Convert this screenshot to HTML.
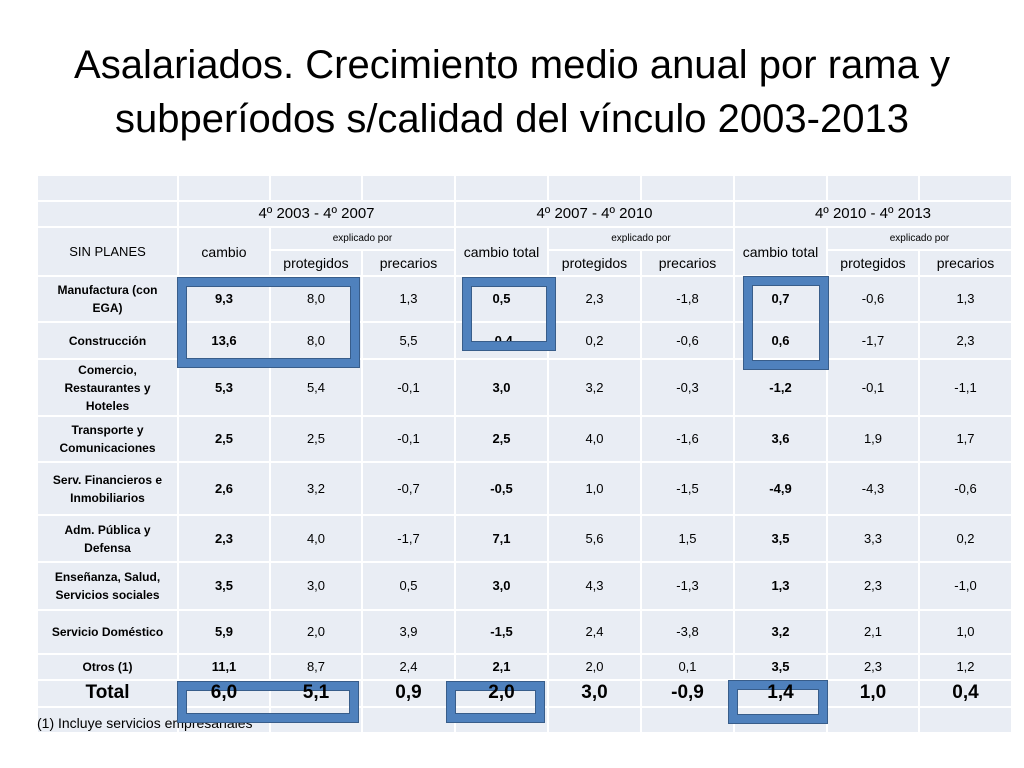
<!DOCTYPE html>
<html><head><meta charset="utf-8"><style>
body{margin:0;width:1024px;height:768px;background:#fff;font-family:"Liberation Sans",sans-serif;position:relative;overflow:hidden}
h1{position:absolute;left:0;top:38px;width:1024px;margin:0;text-align:center;font-weight:normal;font-size:40px;line-height:54px;color:#000}
.c{position:absolute;background:#e9edf4;display:flex;align-items:center;justify-content:center;text-align:center;color:#000;box-sizing:border-box;font-size:13px;line-height:16px}
.b{font-weight:bold;font-size:13px}
.lab{font-weight:bold;font-size:12px;line-height:18px;padding:0 12px}
.tot{font-weight:bold;font-size:19px;z-index:3;background:transparent;padding-bottom:2px}
.box{position:absolute;border:8px solid #4f81bd;box-shadow:0 0 0 1px #385d8a, inset 0 0 0 1px #385d8a;box-sizing:border-box;z-index:2}
.fn{position:absolute;left:37px;top:715px;font-size:14px;color:#000;z-index:1}
</style></head><body>
<h1>Asalariados. Crecimiento medio anual por rama y<br>subperíodos s/calidad del vínculo 2003-2013</h1>
<div id="t"></div>
<div class="fn">(1) Incluye servicios empresariales</div>
<script>
const colX=[37,178,270,362,455,548,641,734,827,919,1012];
const rowY=[175,201,227,250,276,322,359,416,462,515,562,610,654,680,707,733];
const rowLabels=["Manufactura (con EGA)","Construcción","Comercio, Restaurantes y Hoteles","Transporte y Comunicaciones","Serv. Financieros e Inmobiliarios","Adm. Pública y Defensa","Enseñanza, Salud, Servicios sociales","Servicio Doméstico","Otros (1)"];
const period1=[["9,3","8,0","1,3"],["13,6","8,0","5,5"],["5,3","5,4","-0,1"],["2,5","2,5","-0,1"],["2,6","3,2","-0,7"],["2,3","4,0","-1,7"],["3,5","3,0","0,5"],["5,9","2,0","3,9"],["11,1","8,7","2,4"]];
const period2=[["0,5","2,3","-1,8"],["-0,4","0,2","-0,6"],["3,0","3,2","-0,3"],["2,5","4,0","-1,6"],["-0,5","1,0","-1,5"],["7,1","5,6","1,5"],["3,0","4,3","-1,3"],["-1,5","2,4","-3,8"],["2,1","2,0","0,1"]];
const period3=[["0,7","-0,6","1,3"],["0,6","-1,7","2,3"],["-1,2","-0,1","-1,1"],["3,6","1,9","1,7"],["-4,9","-4,3","-0,6"],["3,5","3,3","0,2"],["1,3","2,3","-1,0"],["3,2","2,1","1,0"],["3,5","2,3","1,2"]];
const totals=["6,0","5,1","0,9","2,0","3,0","-0,9","1,4","1,0","0,4"];
const periodLabels=["4º 2003 - 4º 2007","4º 2007 - 4º 2010","4º 2010 - 4º 2013"];
const T=document.getElementById('t');
function cell(c0,c1,r0,r1,txt,cls,name){
  const d=document.createElement('div');
  d.className='c '+(cls||'');
  d.style.left=(colX[c0]+1)+'px';d.style.top=(rowY[r0]+1)+'px';
  d.style.width=(colX[c1]-colX[c0]-2)+'px';d.style.height=(rowY[r1]-rowY[r0]-2)+'px';
  d.textContent=txt||'';
  
  
  T.appendChild(d);return d;
}
for(let c=0;c<10;c++)cell(c,c+1,0,1,'','', 'blank-cell');
cell(0,1,1,2,'','','blank-cell');
for(let p=0;p<3;p++){const d=cell(1+3*p,4+3*p,1,2,periodLabels[p],'','period-header');d.style.fontSize='15px';}
cell(0,1,2,4,'SIN PLANES','','sin-planes-header');
for(let p=0;p<3;p++){
  const d=cell(1+3*p,2+3*p,2,4,p==0?'cambio':'cambio total','','cambio-header');d.style.fontSize='14px';
  const e=cell(2+3*p,4+3*p,2,3,'explicado por','','explicado-por-header');e.style.fontSize='10px';
  const f=cell(2+3*p,3+3*p,3,4,'protegidos','','protegidos-header');f.style.fontSize='14px';
  const g=cell(3+3*p,4+3*p,3,4,'precarios','','precarios-header');g.style.fontSize='14px';
}
const per=[period1,period2,period3];
for(let r=0;r<rowLabels.length;r++){
  cell(0,1,4+r,5+r,rowLabels[r],'lab','row-label');
  for(let p=0;p<3;p++)for(let k=0;k<3;k++){
    cell(1+3*p+k,2+3*p+k,4+r,5+r,per[p][r][k],k==0?'b':'','value-cell');
  }
}
for(let i=0;i<10;i++){const d=cell(i,i+1,13,14,'','','total-bg');}
cell(0,1,13,14,'Total','tot','total-label');
for(let i=0;i<9;i++)cell(1+i,2+i,13,14,totals[i],'tot','total-value');
for(let c=0;c<10;c++)cell(c,c+1,14,15,'','','blank-cell');
const boxes=[[178,278,181,89],[463,278,92,72],[744,277,84,92],[178,682,180,40],[447,682,97,40],[729,681,98,42]];
boxes.forEach(b=>{const d=document.createElement('div');d.className='box';
d.style.left=b[0]+'px';d.style.top=b[1]+'px';d.style.width=b[2]+'px';d.style.height=b[3]+'px';


document.body.appendChild(d);});
</script>
</body></html>
